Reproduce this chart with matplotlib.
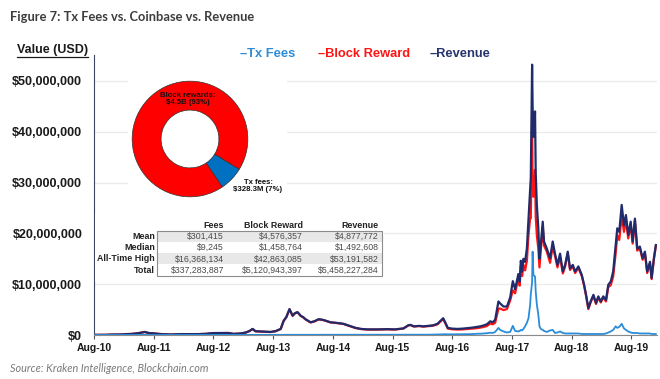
import matplotlib
matplotlib.use("Agg")
import matplotlib.pyplot as plt
import matplotlib.ticker as mticker
from matplotlib.patches import Rectangle
from matplotlib.lines import Line2D
import pandas as pd

plt.rcParams['font.family'] = ['Liberation Sans', 'DejaVu Sans']
plt.rcParams['text.parse_math'] = False

# values in $ millions
dates = [
    '2010-08-01', '2010-09-15', '2010-10-15', '2010-11-15', '2010-12-15',
    '2011-01-15', '2011-02-15', '2011-03-15', '2011-04-15', '2011-05-15',
    '2011-06-08', '2011-07-01', '2011-08-01', '2011-09-01', '2011-10-01',
    '2011-11-15', '2011-12-15', '2012-01-15', '2012-03-01', '2012-05-01',
    '2012-06-15', '2012-08-01', '2012-09-15', '2012-11-01', '2012-12-01',
    '2013-01-15', '2013-02-15', '2013-03-10', '2013-03-28', '2013-04-15',
    '2013-05-15', '2013-06-15', '2013-07-15', '2013-08-15', '2013-09-16',
    '2013-10-04', '2013-10-20', '2013-11-09', '2013-11-28', '2013-12-12',
    '2013-12-28', '2014-01-16', '2014-02-01', '2014-02-15', '2014-03-18',
    '2014-04-10', '2014-05-06', '2014-05-30', '2014-06-20', '2014-07-18',
    '2014-08-20', '2014-10-05', '2014-11-10', '2014-12-18', '2015-01-20',
    '2015-03-01', '2015-05-01', '2015-07-01', '2015-08-15', '2015-10-07',
    '2015-11-05', '2015-11-18', '2015-12-10', '2016-01-10', '2016-02-06',
    '2016-03-10', '2016-04-05', '2016-05-02', '2016-06-06', '2016-06-20',
    '2016-07-04', '2016-08-01', '2016-09-01', '2016-10-01', '2016-11-01',
    '2016-12-01', '2017-01-01', '2017-01-19', '2017-02-10', '2017-02-28',
    '2017-03-21', '2017-04-05', '2017-04-20', '2017-05-10', '2017-05-21',
    '2017-06-10', '2017-07-01', '2017-07-21', '2017-08-06', '2017-08-20',
    '2017-09-09', '2017-09-17', '2017-09-24', '2017-10-02', '2017-10-10',
    '2017-10-20', '2017-10-31', '2017-11-10', '2017-11-20', '2017-11-24',
    '2017-12-02', '2017-12-05', '2017-12-10', '2017-12-20', '2017-12-24',
    '2017-12-31', '2018-01-09', '2018-01-16', '2018-01-24', '2018-02-05',
    '2018-02-13', '2018-03-02', '2018-03-22', '2018-04-07', '2018-04-21',
    '2018-05-06', '2018-05-22', '2018-06-08', '2018-06-22', '2018-07-08',
    '2018-07-22', '2018-08-08', '2018-08-22', '2018-09-11', '2018-10-02',
    '2018-10-16', '2018-10-28', '2018-11-11', '2018-11-25', '2018-12-12',
    '2018-12-28', '2019-01-11', '2019-01-26', '2019-02-10', '2019-02-27',
    '2019-03-13', '2019-03-28', '2019-04-12', '2019-04-27', '2019-05-07',
    '2019-05-19', '2019-06-03', '2019-06-17', '2019-06-29', '2019-07-13',
    '2019-07-28', '2019-08-09', '2019-08-23', '2019-09-06', '2019-09-22',
    '2019-10-09', '2019-10-23', '2019-11-06', '2019-11-23', '2019-12-03',
    '2019-12-17', '2019-12-29',
]

revenue = [
    0.02, 0.03, 0.04, 0.08, 0.08,
    0.10, 0.18, 0.20, 0.30, 0.45,
    0.60, 0.40, 0.30, 0.22, 0.15,
    0.10, 0.13, 0.18, 0.17, 0.18,
    0.23, 0.38, 0.40, 0.40, 0.22,
    0.30, 0.50, 0.80, 1.20, 0.75,
    0.70, 0.65, 0.60, 0.75, 1.20,
    2.80, 3.50, 5.10, 3.80, 4.30,
    4.50, 3.80, 3.50, 3.10, 2.50,
    2.70, 3.10, 3.00, 2.80, 2.50,
    2.40, 2.20, 1.80, 1.40, 1.20,
    1.10, 1.10, 1.15, 1.10, 1.30,
    1.90, 2.00, 1.70, 1.80, 1.70,
    1.80, 1.90, 2.20, 3.30, 2.40,
    1.40, 1.25, 1.20, 1.25, 1.35,
    1.45, 1.60, 1.70, 1.90, 2.10,
    2.70, 2.50, 3.00, 6.60, 6.20,
    5.60, 5.60, 7.40, 10.6, 9.00,
    12.0, 10.5, 14.6, 12.5, 15.0,
    14.4, 17.0, 23.0, 29.0, 31.0,
    53.2, 45.0, 39.0, 44.0, 32.0,
    25.6, 21.0, 15.0, 17.7, 22.3,
    18.4, 17.0, 15.1, 18.4, 16.0,
    13.8, 16.0, 12.5, 13.8, 16.4,
    13.1, 13.8, 12.5, 13.5, 11.8,
    9.9, 7.9, 5.3, 6.6, 7.9,
    6.3, 7.6, 6.6, 7.6, 6.9,
    9.9, 10.5, 12.5, 17.7, 21.0,
    20.3, 25.6, 21.6, 23.6, 19.7,
    22.3, 18.4, 22.9, 17.0, 17.4,
    15.1, 16.4, 12.5, 14.4, 11.2,
    15.1, 17.7,
]

block_reward = [
    0.02, 0.03, 0.04, 0.08, 0.08,
    0.10, 0.18, 0.20, 0.30, 0.44,
    0.59, 0.39, 0.29, 0.21, 0.14,
    0.09, 0.12, 0.17, 0.16, 0.17,
    0.22, 0.37, 0.39, 0.39, 0.21,
    0.29, 0.49, 0.78, 1.17, 0.72,
    0.68, 0.63, 0.58, 0.73, 1.17,
    2.77, 3.46, 5.05, 3.76, 4.26,
    4.46, 3.76, 3.46, 3.07, 2.47,
    2.67, 3.07, 2.97, 2.77, 2.47,
    2.37, 2.17, 1.77, 1.37, 1.17,
    1.07, 1.07, 1.12, 1.07, 1.27,
    1.86, 1.96, 1.66, 1.75, 1.65,
    1.74, 1.83, 2.10, 3.15, 2.25,
    1.27, 1.12, 1.07, 1.10, 1.18,
    1.27, 1.35, 1.45, 1.60, 1.75,
    2.25, 2.10, 2.40, 5.20, 5.20,
    4.90, 5.10, 6.80, 8.80, 8.20,
    11.3, 9.70, 13.6, 11.6, 13.8,
    12.7, 14.6, 19.7, 23.0, 23.0,
    42.8, 28.6, 27.2, 32.5, 23.4,
    19.6, 17.0, 13.3, 16.5, 21.3,
    17.6, 16.4, 14.2, 17.4, 15.6,
    13.3, 15.3, 12.1, 13.5, 16.1,
    12.8, 13.5, 12.2, 13.2, 11.6,
    9.7, 7.7, 5.1, 6.4, 7.7,
    6.1, 7.4, 6.4, 7.4, 6.6,
    9.4, 9.8, 11.5, 16.0, 19.6,
    18.7, 23.4, 20.3, 22.6, 19.0,
    21.8, 18.0, 22.5, 16.6, 17.1,
    14.8, 16.1, 12.2, 14.1, 11.0,
    14.9, 17.5,
]

tx_fees = [
    0.00, 0.00, 0.00, 0.00, 0.00,
    0.00, 0.00, 0.00, 0.00, 0.01,
    0.01, 0.01, 0.01, 0.01, 0.01,
    0.01, 0.01, 0.01, 0.01, 0.01,
    0.01, 0.01, 0.01, 0.01, 0.01,
    0.01, 0.01, 0.02, 0.03, 0.03,
    0.02, 0.02, 0.02, 0.02, 0.03,
    0.03, 0.04, 0.05, 0.04, 0.04,
    0.04, 0.04, 0.04, 0.03, 0.03,
    0.03, 0.03, 0.03, 0.03, 0.03,
    0.03, 0.03, 0.03, 0.03, 0.03,
    0.03, 0.03, 0.03, 0.03, 0.03,
    0.04, 0.04, 0.04, 0.05, 0.05,
    0.06, 0.07, 0.10, 0.15, 0.15,
    0.13, 0.13, 0.13, 0.15, 0.17,
    0.18, 0.25, 0.25, 0.30, 0.35,
    0.45, 0.40, 0.60, 1.40, 1.00,
    0.70, 0.50, 0.60, 1.80, 0.80,
    0.70, 0.80, 1.00, 0.90, 1.20,
    1.70, 2.40, 3.30, 6.00, 8.00,
    10.4, 16.4, 11.8, 11.5, 8.60,
    6.00, 4.00, 1.70, 1.20, 1.00,
    0.80, 0.60, 0.90, 1.00, 0.40,
    0.50, 0.70, 0.40, 0.30, 0.30,
    0.30, 0.30, 0.30, 0.30, 0.20,
    0.20, 0.20, 0.20, 0.20, 0.20,
    0.20, 0.20, 0.20, 0.20, 0.30,
    0.50, 0.70, 1.00, 1.70, 1.40,
    1.60, 2.20, 1.30, 1.00, 0.70,
    0.50, 0.40, 0.40, 0.40, 0.30,
    0.30, 0.30, 0.30, 0.30, 0.20,
    0.20, 0.20,
]

pie_labels = ['Tx fees', 'Block rewards']
pie_values = [328.3, 4500.0]

table_rows = ['Mean', 'Median', 'All-Time High', 'Total']
table_cols = ['Fees', 'Block Reward', 'Revenue']
fees_col = ['$301,415', '$9,245', '$16,368,134', '$337,283,887']
block_col = ['$4,576,357', '$1,458,764', '$42,863,085', '$5,120,943,397']
rev_col = ['$4,877,772', '$1,492,608', '$53,191,582', '$5,458,227,284']

years = list(range(2010, 2020))

W, H = 660, 379
def fx(px):
    return px / W
def fy(py):
    return 1 - py / H

fig = plt.figure(figsize=(6.6, 3.79), dpi=100)
ax = fig.add_axes([fx(94), fy(335), fx(657) - fx(94), fy(55) - fy(335)])

d = pd.to_datetime(dates)
ax.plot(d, block_reward, color='#ff1414', lw=1.6, zorder=3)
ax.plot(d, revenue, color='#1f2b6a', lw=1.6, zorder=4)
ax.plot(d, tx_fees, color='#2b8cd9', lw=1.3, zorder=5)

ax.set_xlim(pd.Timestamp('2010-08-01'), pd.Timestamp('2020-01-05'))
ax.set_ylim(0, 55.1)
ax.set_yticks([0, 10, 20, 30, 40, 50])
ax.yaxis.set_major_formatter(mticker.FuncFormatter(lambda v, p: '${:,.0f}'.format(v * 1e6)))
ax.set_xticks([pd.Timestamp('%d-08-01' % y) for y in years])
ax.set_xticklabels(['Aug-%02d' % (y % 100) for y in years])
ax.yaxis.grid(True, color='#ebebeb', lw=1)
ax.set_axisbelow(True)
for s in ['top', 'right']:
    ax.spines[s].set_visible(False)
ax.spines['left'].set_color('#3b4660')
ax.spines['left'].set_linewidth(0.8)
ax.spines['bottom'].set_color('#8a8a8a')
ax.spines['bottom'].set_linewidth(0.8)
ax.tick_params(axis='y', length=0, pad=8.5, labelsize=9, labelcolor='#1a1a1a')
ax.tick_params(axis='x', length=3, width=0.8, color='#555555', pad=3, labelsize=7.5, labelcolor='#1a1a1a')
for lbl in ax.get_xticklabels() + ax.get_yticklabels():
    lbl.set_fontweight('bold')

# white boxes behind the inserts
fig.add_artist(Rectangle((fx(128), fy(205)), fx(287) - fx(128), fy(72) - fy(205),
                         transform=fig.transFigure, fc='white', ec='none', zorder=1))
fig.add_artist(Rectangle((fx(95), fy(281)), fx(384) - fx(95), fy(214) - fy(281),
                         transform=fig.transFigure, fc='white', ec='none', zorder=1))

# donut
pax = fig.add_axes([fx(131), fy(198), fx(249) - fx(131), fy(80) - fy(198)])
pax.set_zorder(2)
pax.pie(pie_values, colors=['#0070c0', '#ff0000'], startangle=-56, counterclock=True,
        wedgeprops=dict(width=0.5, edgecolor='#333333', linewidth=0.5))
pax.set_xlim(-1.02, 1.02)
pax.set_ylim(-1.02, 1.02)
fig.text(fx(188), fy(99), 'Block rewards:\n$4.5B (93%)', ha='center', va='center',
         size=5.6, weight='bold', color='#111111', linespacing=1.15, zorder=4)
fig.text(fx(258), fy(186), 'Tx fees:\n$328.3M (7%)', ha='center', va='center',
         size=5.6, weight='bold', color='#111111', linespacing=1.15, zorder=4)

# stats table
col_right = [224, 302.7, 378.7]
top, rh = 230.7, 11.25
for i in range(len(table_rows)):
    if i % 2 == 0:
        fig.add_artist(Rectangle((fx(157), fy(top + rh * (i + 1))), fx(381.7) - fx(157), rh / H,
                                 transform=fig.transFigure, fc='#e8e8e8', ec='none', zorder=1.5))
fig.add_artist(Rectangle((fx(157), fy(top + rh * 4)), fx(381.7) - fx(157), 4 * rh / H,
                         transform=fig.transFigure, fc='none', ec='#8c8c8c', lw=0.8, zorder=2))
for j, c in enumerate(table_cols):
    fig.text(fx(col_right[j]), fy(225.5), c, ha='right', va='center', size=6.4,
             weight='bold', color='#222222', zorder=4)
for i, r in enumerate(table_rows):
    yc = fy(top + rh * (i + 0.5))
    fig.text(fx(155), yc, r, ha='right', va='center', size=6.4, weight='bold', color='#222222', zorder=4)
    for j, col in enumerate([fees_col, block_col, rev_col]):
        fig.text(fx(col_right[j]), yc, col[i], ha='right', va='center', size=6.3,
                 color='#4a4a4a', zorder=4)

# titles and legend
fig.text(fx(10), fy(17), 'Figure 7: Tx Fees vs. Coinbase vs. Revenue', family=['Lato', 'DejaVu Sans'],
         weight='bold', size=9.3, color='#3d3d3d', va='center', ha='left')
fig.text(fx(17), fy(50), 'Value (USD)', weight='bold', size=9, color='#1a1a1a', va='center', ha='left')
fig.add_artist(Line2D([fx(17), fx(88)], [fy(57), fy(57)], transform=fig.transFigure, color='#1a1a1a', lw=0.9))
fig.text(fx(240), fy(54), '\u2013Tx Fees', color='#2b8cd9', weight='bold', size=9.3, va='center')
fig.text(fx(318), fy(54), '\u2013Block Reward', color='#ff1414', weight='bold', size=9.3, va='center')
fig.text(fx(430), fy(54), '\u2013Revenue', color='#26336e', weight='bold', size=9.3, va='center')
fig.text(fx(10), fy(368), 'Source: Kraken Intelligence, Blockchain.com', family=['Lato', 'DejaVu Sans'],
         style='italic', size=7.8, color='#7a7a7a', va='center')

fig.savefig('out.png', dpi=100)
